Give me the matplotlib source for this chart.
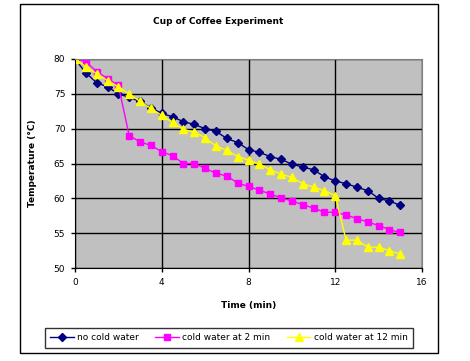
import matplotlib
matplotlib.use("Agg")
import matplotlib.pyplot as plt
from matplotlib.patches import Rectangle

# time in minutes, one reading every half minute
time_min = [i * 0.5 for i in range(31)]

no_cold = [80, 78.0, 76.6, 76.0, 75.0, 74.5, 73.9, 73.0, 72.2, 71.7, 71.0,
           70.6, 70.0, 69.6, 68.6, 68.0, 67.0, 66.6, 66.0, 65.6, 64.9,
           64.5, 64.1, 63.1, 62.5, 62.1, 61.6, 61.1, 60.0, 59.6, 59.0]
cold_at_2 = [80, 79.6, 78.2, 77.2, 76.2, 69.0, 68.1, 67.6, 66.7, 66.1, 65.0,
             65.0, 64.3, 63.6, 63.2, 62.2, 61.7, 61.2, 60.6, 60.1, 59.6,
             59.1, 58.6, 58.0, 58.0, 57.6, 57.1, 56.6, 56.1, 55.5, 55.1]
cold_at_12 = [80, 78.9, 77.9, 76.9, 76.0, 75.0, 73.9, 72.9, 71.9, 70.9, 69.9,
              69.5, 68.7, 67.5, 66.9, 66.0, 65.5, 64.9, 64.1, 63.5, 63.0,
              62.1, 61.6, 61.1, 60.4, 54.0, 54.0, 53.0, 53.0, 52.5, 52.0]

x_ticks = [0, 4, 8, 12, 16]
y_ticks = [50, 55, 60, 65, 70, 75, 80]

plt.rcParams["font.family"] = "DejaVu Sans"

fig = plt.figure(figsize=(4.7, 3.61), dpi=100)
ax = fig.add_axes([75 / 470, 1 - 268 / 361, 347 / 470, 209 / 361])

# outer chart frame
fig.patches.append(Rectangle((20 / 470, 1 - 353 / 361), 418 / 470, 349 / 361,
                             transform=fig.transFigure, fill=False,
                             edgecolor="black", linewidth=1.0))

ax.set_facecolor("#C0C0C0")
ax.plot(time_min, no_cold, color="#000080", marker="D", markersize=4,
        linewidth=1, label="no cold water")
ax.plot(time_min, cold_at_2, color="#FF00FF", marker="s", markersize=4.5,
        linewidth=1, label="cold water at 2 min")
ax.plot(time_min, cold_at_12, color="#FFFF00", marker="^", markersize=5.5,
        linewidth=1, label="cold water at 12 min")

ax.set_xlim(0, 16)
ax.set_ylim(50, 80)
ax.set_xticks(x_ticks)
ax.set_yticks(y_ticks)
ax.grid(True, color="black", linewidth=1)
ax.set_axisbelow(True)
ax.tick_params(labelsize=6.5, length=3, width=1, direction="out", pad=4)

for side in ["top", "right"]:
    ax.spines[side].set_color("#808080")
for side in ["left", "bottom"]:
    ax.spines[side].set_color("black")

ax.set_xlabel("Time (min)", fontsize=6.5, fontweight="bold", labelpad=10)
ax.set_ylabel("Temperature (°C)", fontsize=6.5, fontweight="bold", labelpad=12)
fig.text(218 / 470, 1 - 21 / 361, "Cup of Coffee Experiment", fontsize=6.5,
         fontweight="bold", ha="center", va="center")

leg = fig.legend(loc="center", bbox_to_anchor=(229 / 470, 1 - 338 / 361),
                 ncol=3, fontsize=6.5, frameon=True, fancybox=False,
                 edgecolor="black", handlelength=2.6, columnspacing=1.8,
                 borderpad=0.6, handletextpad=0.4)
leg.get_frame().set_linewidth(1)

fig.savefig("out.png", dpi=100)
